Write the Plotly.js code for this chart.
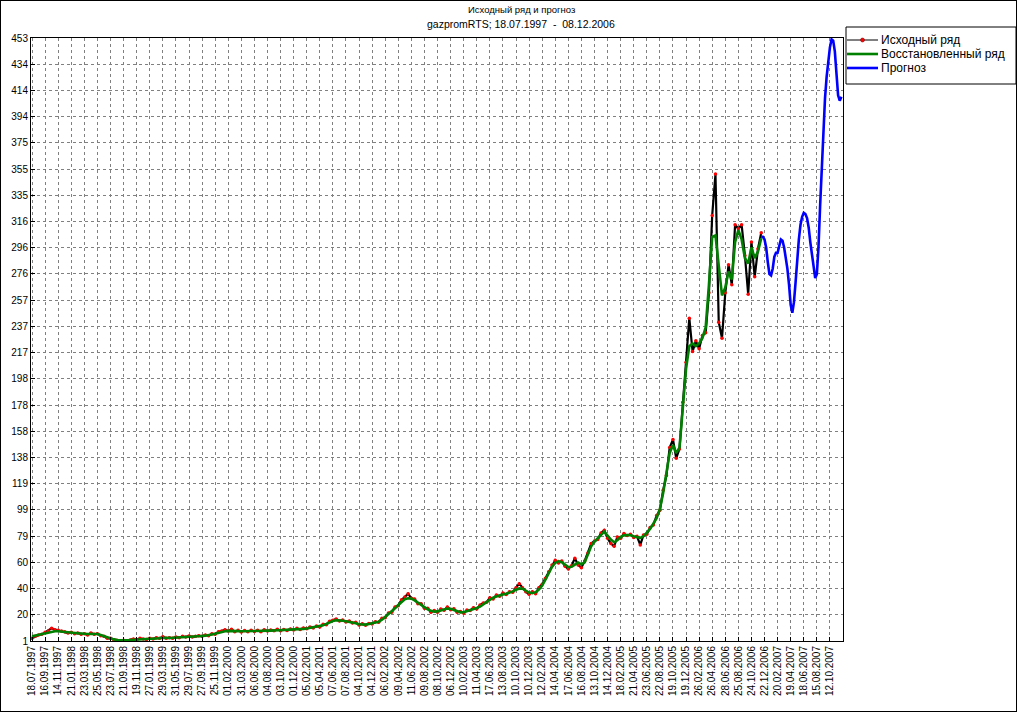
<!DOCTYPE html>
<html>
<head>
<meta charset="utf-8">
<script src="https://cdn.plot.ly/plotly-3.0.1.min.js"></script>
<style>
html,body{margin:0;padding:0;background:#fff;}
#wrap{position:relative;width:1020px;height:715px;}
#chart{width:1020px;height:715px;}
#frame{position:absolute;left:0;top:0;width:1015px;height:710px;border:1px solid #000;pointer-events:none;}
</style>
</head>
<body>
<div id="wrap"><div id="chart"></div><div id="frame"></div></div>
<script>
// X tick labels (one every ~42 trading days)
const dateLabels = ['18.07.1997','16.09.1997','14.11.1997','21.01.1998','23.03.1998','25.05.1998','23.07.1998','21.09.1998','19.11.1998','27.01.1999','29.03.1999','31.05.1999','29.07.1999','27.09.1999','25.11.1999','01.02.2000','31.03.2000','06.06.2000','04.08.2000','03.10.2000','01.12.2000','05.02.2001','05.04.2001','07.06.2001','07.08.2001','04.10.2001','04.12.2001','06.02.2002','09.04.2002','11.06.2002','09.08.2002','08.10.2002','06.12.2002','10.02.2003','11.04.2003','17.06.2003','13.08.2003','10.10.2003','10.12.2003','12.02.2004','14.04.2004','17.06.2004','16.08.2004','13.10.2004','14.12.2004','18.02.2005','21.04.2005','23.06.2005','22.08.2005','19.10.2005','19.12.2005','26.02.2006','26.04.2006','28.06.2006','25.08.2006','24.10.2006','22.12.2006','20.02.2007','19.04.2007','18.06.2007','15.08.2007','12.10.2007'];
const yLabels = ['1','20','40','60','79','99','119','138','158','178','198','217','237','257','276','296','316','335','355','375','394','414','434','453'];

// Original series, sampled every quarter of a label interval, starting at 18.07.1997
const obsStep = 0.25;
const observed = [3,4.5,5.5,6,7.5,8.5,10.5,9.5,9,8.5,8,7,7.5,6.5,7,6,6.5,5.5,7,6,6.5,5,4.5,3,3,2,1.5,1,1.5,
1.2,1.8,2.5,2,3,2.5,2.2,3,2.5,3.5,3,4.2,3,3.5,3,4,3.5,4.5,4,4.8,4,4.5,5,4.5,5.5,5,6.5,6,8,8.5,9.5,8.5,9.8,8,9,7.8,8.8,8,9,8.2,9,8,9.5,8.5,9.3,8.6,9.8,8.7,9.6,8.8,10,9.2,10.5,9.6,10.8,10.2,11.5,10.8,12.2,11.5,13.5,13.2,15.8,16.5,17.5,16,16.8,15.2,16,14.5,15,13,14,12.8,14.2,13.8,15.5,15,18,18.5,22,22.5,26.5,27.5,32,34,36.5,33,32.5,29,29,25.5,25.5,22.5,23.8,22.5,25,24,26.5,24.5,25.2,22.5,23.2,21.8,24.2,23.8,26,25,28,29.5,30,33.5,32.5,35.5,34.5,37,35.8,38,37.5,41,44,41,38,36,38,36.5,41,43.5,48,53,58,61.5,59.5,61,57,55,57.5,63,58,56,61,67,74,76,77,82,84,78,74,72,79,78,81.5,80,81,78.5,79.5,73,80.5,81,86,88,95,99,114,125,146,152,138,145,180,210,243,218,226,220,230,232,262,320,351,240,228,262,283,268,313,310,313,290,261,300,274,295,307];

// Reconstructed (smoothed) series, same sampling
const reconstructed = [4.5,5,5.5,6.2,6.8,7.4,8,8.3,8.3,8,7.6,7.2,7,6.8,6.8,6.6,6.3,6.2,6.3,6.5,6.2,5.5,4.6,3.6,2.8,2.2,1.8,1.6,1.6,
1.6,1.7,1.9,2.2,2.5,2.6,2.6,2.7,2.7,2.9,3.2,3.5,3.4,3.2,3.3,3.5,3.8,4,4.1,4.2,4.3,4.4,4.6,4.8,5,5.3,5.8,6.5,7.2,7.8,8.3,8.6,8.7,8.6,8.4,8.3,8.3,8.4,8.5,8.5,8.5,8.6,8.7,8.8,8.8,8.9,9,9,9,9.1,9.3,9.5,9.7,9.9,10.1,10.4,10.8,11.2,11.6,12,12.8,13.8,15,16,16.5,16.5,16.2,15.8,15.4,15,14.3,13.6,13.2,13.3,13.8,14.3,14.8,15.5,17,19,21,23,25.5,28,30.5,32.3,33,32.8,31.5,29.8,28,26.3,24.8,23.6,23,23.2,24,24.8,25.3,25.2,24.4,23.2,22.5,22.6,23.3,24.3,25.2,25.8,26.8,28.5,30.5,32.2,33.4,34.3,35.2,35.8,36.4,37.2,38.2,39.4,40.4,40.2,38.8,37.3,36.8,37.6,39.5,42.5,47,52,56.5,59.5,60.8,60,58,56.5,56.7,58.5,59.8,58.5,60,66,72,75.5,78,80.5,83,80,77,75,76.5,79,80.2,80.5,80.3,79.5,78.8,78.3,79.5,82,85,89,93,100,112,127,142,148,142,146,175,205,222,224,222,224,228,236,268,304,305,282,260,266,278,272,300,309,302,288,284,296,288,293,303];

// Forecast, sampled every eighth of a label interval, starting where the data end
const fcStart = 55.75;
const fcStep = 0.125;
const forecast = [304,304,302,296,285,276,275,280,289,292,292,297,302,301,296,288,280,268,253,247,255,270,287,302,313,319,322,321,318,311,300,290,280,273,276,296,327,355,384,408,424,437,446,452,451,443,428,410,406,409];

const xs = (arr, start, step) => arr.map((_, i) => start + i * step);

const traces = [
  {x: xs(observed, 0, obsStep), y: observed, type: 'scatter', mode: 'lines+markers',
   line: {color: '#000000', width: 2.2}, marker: {color: '#ff0000', size: 3.5, line: {width: 0}},
   name: 'Исходный ряд', showlegend: false, hoverinfo: 'skip'},
  {x: xs(reconstructed, 0, obsStep), y: reconstructed, type: 'scatter', mode: 'lines',
   line: {color: '#008000', width: 2.6}, name: 'Восстановленный ряд', showlegend: false, hoverinfo: 'skip'},
  {x: xs(forecast, fcStart, fcStep), y: forecast, type: 'scatter', mode: 'lines',
   line: {color: '#0000ff', width: 2.6}, name: 'Прогноз', showlegend: false, hoverinfo: 'skip'}
];

const L = 31, R = 843, T = 38, B = 641;
const px = v => (v - L) / (R - L);
const py = v => (B - v) / (B - T);
const font = 'Arial, "Liberation Sans", sans-serif';

const legendRows = [
  {text: 'Исходный ряд', color: '#000000', width: 1, y: 40, dot: true},
  {text: 'Восстановленный ряд', color: '#008000', width: 2.6, y: 54},
  {text: 'Прогноз', color: '#0000ff', width: 2.6, y: 68}
];

const shapes = [
  {type: 'rect', xref: 'paper', yref: 'paper', x0: px(846), x1: px(1016), y0: py(27), y1: py(84),
   line: {color: '#000', width: 1}, fillcolor: '#fff'}
];
const annotations = [
  {text: 'Исходный ряд и прогноз', xref: 'paper', yref: 'paper', x: px(521), y: py(9), showarrow: false,
   xanchor: 'center', yanchor: 'middle', font: {family: font, size: 9.5, color: '#000'}},
  {text: 'gazpromRTS; 18.07.1997  -  08.12.2006', xref: 'paper', yref: 'paper', x: px(521), y: py(24), showarrow: false,
   xanchor: 'center', yanchor: 'middle', font: {family: font, size: 10.5, color: '#000'}}
];
legendRows.forEach(r => {
  shapes.push({type: 'line', xref: 'paper', yref: 'paper', x0: px(847), x1: px(878), y0: py(r.y), y1: py(r.y),
    line: {color: r.color, width: r.width}});
  if (r.dot) shapes.push({type: 'circle', xref: 'paper', yref: 'paper', x0: px(860.5), x1: px(864.5), y0: py(38), y1: py(42),
    line: {color: '#600', width: 0.5}, fillcolor: '#ff0000'});
  annotations.push({text: r.text, xref: 'paper', yref: 'paper', x: px(879), y: py(r.y), showarrow: false,
    xanchor: 'left', yanchor: 'middle', font: {family: font, size: 12, color: '#000'}});
});

const yTickVals = yLabels.map((_, k) => 1 + k * 452 / 23);
const xTickVals = dateLabels.map((_, i) => i);

const layout = {
  width: 1020, height: 715,
  margin: {l: L, r: 1020 - R, t: T, b: 715 - B, pad: 0},
  paper_bgcolor: '#fff', plot_bgcolor: '#fff',
  showlegend: false,
  font: {family: font, size: 10, color: '#000'},
  xaxis: {range: [-0.08, 62.0], tickvals: xTickVals, ticktext: dateLabels, tickangle: -90,
    showgrid: true, gridcolor: '#808080', griddash: '3px,3px', gridwidth: 1,
    showline: true, linecolor: '#000', linewidth: 1, mirror: true,
    ticks: 'inside', ticklen: 4, tickcolor: '#000', zeroline: false,
    tickfont: {family: font, size: 10, color: '#000'}},
  yaxis: {range: [1, 453], tickvals: yTickVals, ticktext: yLabels,
    showgrid: true, gridcolor: '#808080', griddash: '3px,3px', gridwidth: 1,
    showline: true, linecolor: '#000', linewidth: 1, mirror: true,
    ticks: 'inside', ticklen: 4, tickcolor: '#000', zeroline: false,
    tickfont: {family: font, size: 10, color: '#000'}},
  shapes: shapes,
  annotations: annotations
};

Plotly.newPlot('chart', traces, layout, {displayModeBar: false, staticPlot: true});
</script>
</body>
</html>
